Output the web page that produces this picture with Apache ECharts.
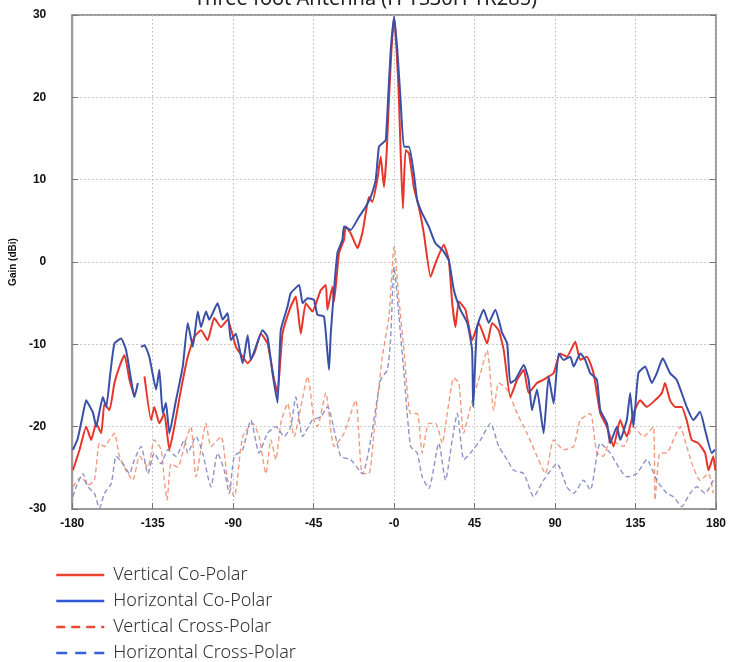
<!DOCTYPE html>
<html><head><meta charset="utf-8">
<script src="https://cdn.jsdelivr.net/npm/echarts@6/dist/echarts.min.js"></script>
<style>html,body{margin:0;padding:0;background:#fff}#c{width:731px;height:662px}</style>
</head><body><div id="c"></div>
<script>
const titleText = 'Three foot Antenna (H-TS30H-TR285)';
const seriesNames = ['Vertical Co-Polar','Horizontal Co-Polar','Vertical Cross-Polar','Horizontal Cross-Polar'];
const xTicks = [-180,-135,-90,-45,0,45,90,135,180];

const vcoAng = [-179.6,-175.9,-172.2,-169.4,-166.6,-163.8,-162,-159.2,-156.4,-153.6,-150.8,-148,-145.2,-143,-139.6,-135.9,-134.1,-131.3,-128.5,-125.7,-122.9,-119.2,-115.4,-111.7,-108,-104.3,-100.6,-96.8,-93.1,-88.5,-84.7,-81.9,-78.2,-74.5,-70.8,-67.1,-65.2,-62.4,-57.8,-55,-52.2,-49.4,-45.7,-41,-38.2,-37.3,-34.5,-33.6,-30.8,-28,-27.1,-24.3,-20.5,-17.8,-15.9,-14.1,-12.2,-9.4,-7.5,-5.7,-4.2,-2.9,-1.5,0,1.4,2.7,3.6,4.9,6.4,8.3,11,13.8,16.6,20.4,23.2,27.8,30.6,32.5,34.3,36.2,39.9,43.6,47.3,52,54.8,58.5,61.3,65,68.8,72.5,75.2,79.9,83.6,86.4,89.2,92.9,96.6,101.3,104.1,107.8,111.5,115.3,119,122.7,126.4,130.1,133.8,137.6,141.3,145.9,149.7,151.5,154.3,157.1,160.8,163.6,166.4,170.1,173.9,175.8,178.5,179.6];
const vcoVal = [-25.3,-22.8,-20,-21.6,-19.6,-20.8,-17.2,-18,-14.7,-12.7,-11.3,-14.3,-16.4,null,-13.9,-19.2,-17.6,-19.6,-18.4,-22.8,-20,-15.5,-11.5,-9.1,-8.3,-9.5,-6.8,-7.9,-7,-10.3,-11.5,-12.3,-11.1,-8.7,-9.9,-14.3,-15.9,-8.7,-5.4,-4.2,-8.7,-5,-6,-3.4,-2.8,-5.8,-3,-4.8,1.1,2.7,4.3,3.5,1.7,3.5,5.9,7.9,7.3,10,12.8,9.1,13.2,19.7,25.7,29.8,25.7,19.7,13.6,6.5,13.6,13.2,9.1,6.7,3.5,-1.8,-0.1,2.1,0.2,-5,-7.9,-4.8,-5.8,-9.5,-7.4,-9.9,-7.4,-8.3,-10.7,-16.4,-14.3,-13.1,-15.9,-14.7,-14.3,-13.9,-13.5,-11.1,-11.5,-9.7,-11.9,-11.5,-13.5,-18.4,-20,-22.4,-19.2,-21.2,-18.4,-16.8,-17.6,-16.8,-15.9,-14.7,-16.8,-17.6,-17.6,-19.2,-21.6,-22,-23.2,-25.3,-23.6,-25.3];

const hcoAng = [-179.6,-177,-174.5,-172.2,-170.3,-168.4,-166.6,-164.8,-162.9,-161,-158.7,-156.4,-152.7,-149.9,-147.1,-145.2,-143.3,-142.4,-141.5,-139.6,-136.9,-133.1,-131.3,-129.4,-127.6,-125.7,-122,-118.2,-115.4,-112.6,-109.8,-108,-105.2,-103.4,-98.7,-95.9,-93.1,-91.3,-88.5,-84.7,-81.9,-80.1,-77.3,-73.6,-70.8,-68,-65.2,-63.4,-59.6,-57.8,-53.1,-51.2,-48.4,-44.8,-42.9,-39.2,-36.4,-35.4,-31.7,-28.9,-28,-24.3,-19.6,-15.9,-13.1,-10.3,-8.5,-6.6,-4.7,-3.4,-1.9,0,1.8,3.6,5.5,8.3,11,12.9,15.7,19.4,23,26.9,30.6,33.4,37.1,40.9,43.6,44.2,46.4,50.1,52.9,56.6,60.4,63.2,65,67.8,72.5,75.2,77.1,79.9,83.6,86.4,89.2,92,94.8,98.5,100.4,104.1,106.9,109.7,113.4,115.3,119,120.8,124.6,126.4,130.1,132,133.8,136.6,140.4,144.1,146.9,150.2,154.3,158,160.8,163.6,167.3,171.1,173.9,177.6,179.4];
const hcoVal = [-22.8,-21.5,-19,-16.8,-17.5,-18.3,-20,-18.2,-16.4,-17.6,-13.5,-9.9,-9.3,-10.7,-14.3,-16.4,-14.7,null,-10.3,-10.1,-11.5,-15.5,-13.1,-18.4,-17.1,-20.8,-16.8,-12.7,-7.4,-10.3,-6,-7.9,-6,-7,-5,-7,-6.2,-9.5,-8.7,-12.3,-8.9,-11.9,-10.3,-8.3,-9.1,-13.5,-17.1,-8.3,-5.4,-3.8,-2.8,-5,-4.4,-4.6,-6.4,-6.6,-13.1,-8.6,1.1,2.7,4.3,3.9,5.5,6.7,7.9,10,14,14.4,14.8,19.7,25.7,29.8,25.7,19.7,14,14,10.8,7.5,5.9,4.3,2.3,1.5,0.2,-3.4,-5.8,-7.4,-10.7,-17.6,-7.9,-5.8,-7.4,-5.8,-8.6,-9.9,-14.7,-14.3,-12.5,-14.3,-18,-15.5,-20.8,-13.9,-17.2,-11.1,-11.9,-11.5,-12.7,-11.1,-11.9,-13.5,-14.3,-18,-19.6,-22,-20,-21.6,-19.2,-15.9,-20,-13.5,-12.7,-14.7,-13.5,-11.7,-13.5,-14.3,-15.9,-17.6,-19.2,-18.2,-20.4,-23.2,-22.8];

const vxAng = [-179.6,-175,-171.2,-167.6,-164.8,-162,-159.2,-156.4,-153.6,-149.9,-146.1,-142.4,-137.7,-134.1,-130.3,-128.5,-127,-124.7,-121,-116.4,-113.6,-110.8,-105.2,-102.4,-96.8,-93.1,-89.4,-84.7,-79.1,-75.5,-71.7,-68.9,-66.1,-63.4,-59.6,-55.9,-52.2,-48.4,-44.8,-42.9,-38.2,-33.6,-28,-21.5,-17.8,-14.1,-11.3,-6.6,-2.9,0,2.7,5.5,9.2,12.9,15.7,19.4,23.2,26.9,29.7,33.4,36.2,38.9,42.7,48.3,52,55.7,58.5,63.2,68.8,74.3,79.9,84.6,89.2,94.8,100.4,104.1,109.7,113.4,117.1,120.8,124.6,128.3,133.8,139.4,145,145.9,148.7,152.5,156.2,159.9,163.6,167.3,171.1,175.8,178.5];
const vxVal = [-27.3,-26.1,-27.1,-26.5,-22,-22.4,-21.6,-20.8,-23.6,-25.3,-26.5,-23.6,-24.9,-21.6,-22.8,-26.5,-28.9,-24.5,-24.9,-21.6,-20,-26.1,-19.6,-22.4,-21.2,-26.5,-28.5,-21.2,-19.6,-21.2,-25.7,-21.6,-24,-19.6,-17.2,-21.2,-17.6,-13.9,-19.2,-20,-15.9,-22.4,-20.8,-16.8,-25.7,-25.7,-20.8,-11.5,-6.6,1.9,-4.6,-10.7,-18.4,-18.4,-23.2,-19.6,-19.6,-22,-18.4,-14.1,-14.7,-20.8,-17.6,-13.5,-10.7,-18,-14.7,-15.5,-18.4,-20.8,-23.6,-25.7,-21.6,-22.8,-22.4,-19.2,-18.4,-23.2,-23.6,-21.6,-22,-22.4,-20,-21.2,-20,-28.9,-23.2,-23.2,-21.6,-20,-22.4,-24.9,-26.5,-25.7,-28.1];

const hxAng = [-179.6,-177.8,-174,-171.2,-167.6,-164.8,-162,-158.2,-155.4,-151.7,-148,-145.2,-141.5,-137.7,-134.1,-130.3,-126.6,-122,-117.3,-115.4,-110.8,-107.1,-102.4,-98.7,-95,-92.2,-89.4,-84.7,-80.1,-75.5,-70.8,-66.1,-61.5,-57.8,-55,-51.2,-45.7,-41,-37.3,-29.9,-24.3,-17.8,-13.1,-7.5,-3.8,-2,0,2.7,5.5,9.2,12.9,15.7,19.4,25,28.7,32.5,35.3,39,42.7,48.3,53.9,58.5,63.2,66.9,72.5,78,83.6,91.1,96.6,100.4,106,109.7,115.3,120.8,125.5,130.1,135.7,141.3,146.9,152.5,156.2,160.8,165.5,169.2,173.9,178.5];
const hxVal = [-28.5,-27.3,-25.7,-27.3,-28.1,-29.9,-28.1,-26.9,-23.6,-24.5,-25.7,-24,-22.4,-25.7,-23.2,-24.5,-22.8,-23.6,-21.6,-23.2,-21.2,-23.2,-27.3,-23.2,-25.3,-28.1,-23.6,-22.8,-19.2,-23.2,-20.8,-20,-21.2,-20,-16.4,-21.2,-19.2,-18.8,-17.6,-23.6,-24,-25.7,-21.6,-14.3,-13.1,-9.5,-0.6,-6.6,-13.5,-22.4,-23.2,-26.1,-27.5,-22,-26.5,-21.6,-18.4,-24,-23.2,-21.6,-19.6,-22.4,-24,-25.3,-25.7,-28.5,-26.5,-24.5,-27.3,-28.1,-26.5,-27.7,-22,-23.2,-24.9,-26.1,-25.7,-24,-26.5,-28.1,-28.5,-29.7,-28.1,-27.3,-28.1,-26.5];

function pairs(a, v){ return a.map((x,i)=>[x, v[i]]); }

const chart = echarts.init(document.getElementById('c'));
const axisFont = {fontFamily:'Liberation Sans, Arial, sans-serif', fontWeight:'bold', fontSize:12, color:'#111'};
const gridLine = {show:true, lineStyle:{color:'#b8b8b8', type:[1.5,2.5], width:1}};
const hidden = {color:'rgba(0,0,0,0)', borderWidth:0, opacity:0};
chart.setOption({
  animation:false,
  backgroundColor:'#fff',
  title:{text:titleText, left:'center', top:-16, textStyle:{fontFamily:'Noto Sans', fontWeight:'normal', fontSize:20, color:'#222'}},
  grid:{left:71, right:15, top:15, bottom:153, show:true, borderColor:'#9a9a9a', borderWidth:2},
  legend:{
    orient:'vertical', left:50, top:561, height:110, itemWidth:48, itemHeight:14, itemGap:8,
    itemStyle:hidden,
    textStyle:{fontFamily:'Noto Sans', fontSize:18, color:'#333', fontWeight:300, padding:[0,0,0,4]},
    data:[
      {name:seriesNames[0], itemStyle:hidden, lineStyle:{color:'#e8442e', width:2.5, type:'solid', opacity:1}},
      {name:seriesNames[1], itemStyle:hidden, lineStyle:{color:'#2f57d6', width:2.5, type:'solid', opacity:1}},
      {name:seriesNames[2], itemStyle:hidden, lineStyle:{color:'#ea4a32', width:2.5, type:[9,6], opacity:1}},
      {name:seriesNames[3], itemStyle:hidden, lineStyle:{color:'#3560db', width:2.5, type:[11,8], opacity:1}}
    ]
  },
  xAxis:{
    type:'value', min:-180, max:180, interval:45,
    axisLine:{show:true, onZero:false, lineStyle:{color:'#9a9a9a', width:2}},
    axisTick:{show:true, inside:true, length:6, lineStyle:{color:'#777'}},
    axisLabel:{...axisFont, margin:9, formatter:v=> v===0 ? '-0' : String(v)},
    splitLine:gridLine
  },
  yAxis:[{
    type:'value', min:-30, max:30, interval:10,
    name:'Gain (dBi)', nameLocation:'middle', nameGap:50, nameRotate:90,
    nameTextStyle:{fontFamily:'Liberation Sans, Arial, sans-serif', fontWeight:'bold', fontSize:10, color:'#111'},
    axisLine:{show:true, onZero:false, lineStyle:{color:'#9a9a9a', width:2}},
    axisTick:{show:true, inside:true, length:6, lineStyle:{color:'#777'}},
    axisLabel:{...axisFont, margin:26, align:'right'},
    splitLine:gridLine
  },{
    type:'value', min:-30, max:30, interval:10, position:'right',
    axisLine:{show:false, onZero:false}, axisTick:{show:true, inside:true, length:6, lineStyle:{color:'#777'}},
    axisLabel:{show:false}, splitLine:{show:false}
  }],
  series:[
    {name:seriesNames[2], type:'line', data:pairs(vxAng,vxVal), showSymbol:false, symbol:'none', z:2, smooth:0.2,
      lineStyle:{color:'#f08a68', width:1.4, type:[5,3], opacity:0.85}},
    {name:seriesNames[3], type:'line', data:pairs(hxAng,hxVal), showSymbol:false, symbol:'none', z:2, smooth:0.2,
      lineStyle:{color:'#7a80c0', width:1.4, type:[5,3], opacity:0.85}},
    {name:seriesNames[0], type:'line', data:pairs(vcoAng,vcoVal), showSymbol:false, symbol:'none', z:3, smooth:0.15,
      lineStyle:{color:'#e8352a', width:2}},
    {name:seriesNames[1], type:'line', data:pairs(hcoAng,hcoVal), showSymbol:false, symbol:'none', z:4, smooth:0.15,
      lineStyle:{color:'#3a4fa6', width:2}}
  ]
});
</script></body></html>
